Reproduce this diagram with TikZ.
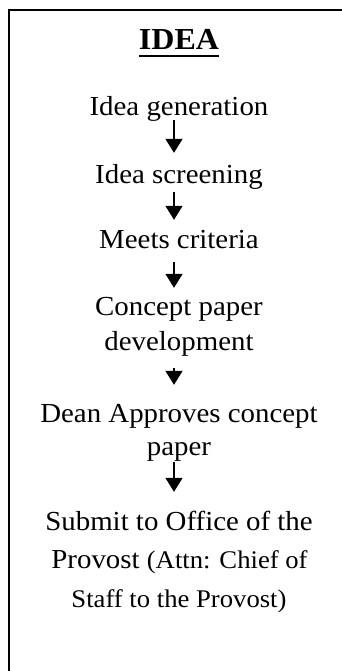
\documentclass[tikz,border=0pt]{standalone}
\usepackage{fontspec}
\setmainfont{Liberation Serif}[FakeStretch=1.05]
\usetikzlibrary{arrows.meta}
\tikzset{
  line/.style={inner sep=0pt, anchor=base, text height=19pt, text depth=6pt,
    font=\fontsize{27.5}{32}\selectfont},
  smalltext/.style={font=\fontsize{25.4}{30}\selectfont},
  flow/.style={line width=1.5pt, -{Triangle[width=17pt,length=14pt]}},
  frame/.style={line width=2pt}
}
\begin{document}
\begin{tikzpicture}[x=1pt,y=-1pt]
\useasboundingbox (0,0) rectangle (342,671);
\draw[frame] (342,10) -- (9,10) -- (9,671);
\node[inner sep=0pt, anchor=base, font=\fontsize{30.5}{34}\selectfont\bfseries] (title) at (179,50) {IDEA};
\draw[line width=2pt] ([yshift=-6pt]title.base west) -- ([yshift=-6pt]title.base east);
\node[line] (n1) at (179,116) {Idea generation};
\node[line] (n2) at (179,183) {Idea screening};
\node[line] (n3) at (179,248) {Meets criteria};
\node[line] (n4a) at (179,315) {Concept paper};
\node[line] (n4b) at (179,350) {development};
\node[line] (n5a) at (179,422) {Dean Approves concept};
\node[line] (n5b) at (179,455) {paper};
\node[line] (n6a) at (179,530) {Submit to Office of the};
\node[line] (n6b) at (179.5,568) {Provost {\fontsize{25.4}{30}\selectfont(Attn: Chief of}};
\node[line, smalltext] (n6c) at (179,607) {Staff to the Provost)};
\draw[flow] ([xshift=-5pt,yshift=2pt]n1.south) -- ([xshift=-5pt,yshift=11pt]n2.north);
\draw[flow] ([xshift=-5pt,yshift=-3pt]n2.south) -- ([xshift=-5pt,yshift=9pt]n3.north);
\draw[flow] ([xshift=-5pt,yshift=-8pt]n3.south) -- ([xshift=-5pt,yshift=8pt]n4a.north);
\draw[flow] ([xshift=-5pt,yshift=-12pt]n4b.south) -- ([xshift=-5pt,yshift=18pt]n5a.north);
\draw[flow] ([xshift=-5pt,yshift=-1pt]n5b.south) -- ([xshift=-5pt,yshift=19pt]n6a.north);
\end{tikzpicture}
\end{document}
